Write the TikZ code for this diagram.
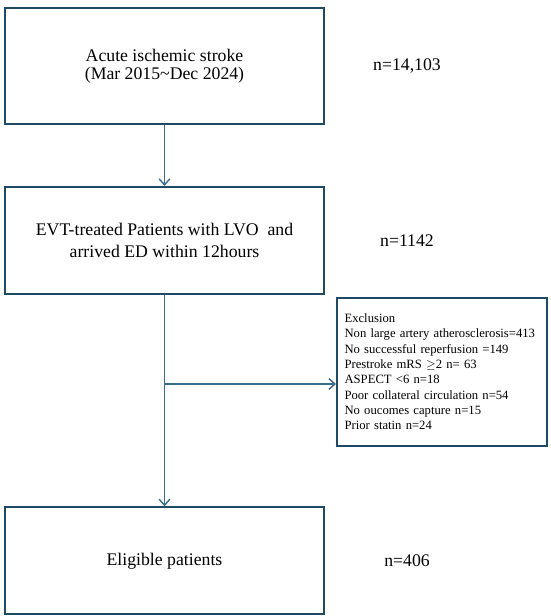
\documentclass[tikz,border=0pt]{standalone}
\usepackage{fontspec}
\setmainfont{Liberation Serif}
\usepackage{xcolor}
\usepackage{tikz}
\usetikzlibrary{positioning, arrows.meta}
\usetikzlibrary{calc}

\definecolor{boxline}{HTML}{1F4A66}
\definecolor{arrowline}{HTML}{3A6E8F}

\begin{document}
\begin{tikzpicture}[
        box/.style={rectangle, minimum width=239.25pt, text centered, draw=boxline, line width=1.5pt, font=\fontsize{13.3}{16.5}\selectfont, align=center},
        count/.style={font=\fontsize{13.3}{16.5}\selectfont},
        exbox/.style={rectangle, draw=boxline, line width=1.3pt, text width=146pt, inner xsep=5.75pt, minimum height=111pt, align=left, font=\fontsize{9.5}{11.5}\selectfont},
        arrow/.style={draw=arrowline, line width=1.1pt, -{Straight Barb[length=4.5pt, width=8pt]}}
    ]

        % ===== 主流程 =====
        \node (stroke) [box, minimum height=87pt] {Acute ischemic stroke\\[-3pt](Mar 2015\textasciitilde Dec 2024)};
        \node (evt) [box, minimum height=80.25pt, below=45.75pt of stroke] {EVT-treated Patients with LVO\ \ and\\arrived ED within 12hours};
        \node (eligible) [box, minimum height=80.25pt, below=158.5pt of evt] {Eligible patients};

        % ===== 人数 =====
        \node (nstroke) [count, right=61.5pt of stroke.east, anchor=center] {n=14,103};
        \node (nevt) [count, right=61.5pt of evt.east, anchor=center] {n=1142};
        \node (neligible) [count, right=61.5pt of eligible.east, anchor=center] {n=406};

        % ===== 排除 =====
        \node (exclusion) [exbox, below right=1.5pt and 8.25pt of evt.south east] {Exclusion\\
            Non large artery atherosclerosis=413\\
            No successful reperfusion =149\\
            Prestroke mRS $\geq$2 n= 63\\
            ASPECT <6 n=18\\
            Poor collateral circulation n=54\\
            No oucomes capture n=15\\
            Prior statin n=24};
        \coordinate [below=66.75pt of evt.south] (branch);

        % ===== 箭头连接 =====
        \draw [arrow] (stroke) -- (evt);
        \draw [arrow] (evt) -- (eligible);
        \draw [arrow] (branch) -- (branch -| exclusion.west);

        \useasboundingbox ($(stroke.north west)+(-3pt,5.25pt)$) rectangle ++(412.5pt,-462pt);

    \end{tikzpicture}
\end{document}
